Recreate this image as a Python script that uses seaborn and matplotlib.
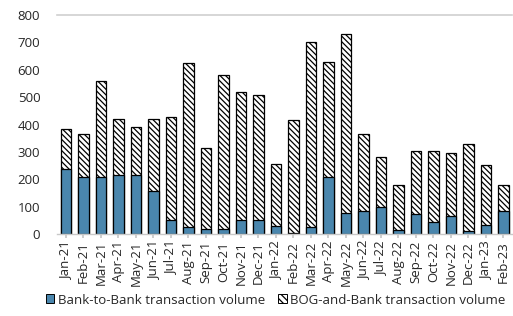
import matplotlib
matplotlib.use("Agg")
import matplotlib.pyplot as plt
import seaborn as sns
import pandas as pd
from matplotlib.patches import Patch

months = ["Jan-21", "Feb-21", "Mar-21", "Apr-21", "May-21", "Jun-21", "Jul-21", "Aug-21",
          "Sep-21", "Oct-21", "Nov-21", "Dec-21", "Jan-22", "Feb-22", "Mar-22", "Apr-22",
          "May-22", "Jun-22", "Jul-22", "Aug-22", "Sep-22", "Oct-22", "Nov-22", "Dec-22",
          "Jan-23", "Feb-23"]
bank_to_bank = [236, 210, 210, 214, 214, 156, 51, 24, 18, 18, 51, 51, 30, 4, 24, 210,
                77, 83, 100, 15, 72, 45, 67, 11, 32, 85]
bog_and_bank = [147, 156, 348, 205, 177, 265, 376, 599, 296, 563, 467, 458, 225, 414, 679, 418,
                652, 283, 182, 165, 232, 259, 229, 316, 221, 95]

df = pd.DataFrame({"month": months, "bank": bank_to_bank, "bog": bog_and_bank})
df["total"] = df["bank"] + df["bog"]

sns.set_theme(style="white")
plt.rcParams["font.family"] = ["Open Sans", "DejaVu Sans"]
plt.rcParams["hatch.linewidth"] = 0.9
plt.rcParams["hatch.color"] = "black"

fig = plt.figure(figsize=(5.13, 3.16), dpi=100)
ax = fig.add_axes([57 / 513, (316 - 234) / 316, (512 - 57) / 513, (234 - 15) / 316])

blue = "#4a86ad"
hatch = "\\" * 6
sns.barplot(data=df, x="month", y="total", color="white", edgecolor="black",
            linewidth=0.9, width=0.6, ax=ax, hatch=hatch, saturation=1)
sns.barplot(data=df, x="month", y="bank", color=blue, edgecolor="black",
            linewidth=0.9, width=0.6, ax=ax, saturation=1)

ax.set_ylim(0, 800)
ax.set_yticks(range(0, 801, 100))
ax.set_xlim(-0.5, len(months) - 0.5)
ax.set_xlabel("")
ax.set_ylabel("")
ax.tick_params(axis="x", rotation=90, labelsize=9.5, pad=2, length=3, color="#c8c8c8", direction="out", bottom=True)
ax.tick_params(axis="y", labelsize=9.5, pad=12, length=0)
for lab in ax.get_xticklabels():
    lab.set_verticalalignment("top")

for side in ["left", "right"]:
    ax.spines[side].set_visible(False)
ax.spines["top"].set_color("#d0d0d0")
ax.spines["top"].set_linewidth(1.2)
ax.spines["bottom"].set_color("#c8c8c8")
ax.spines["bottom"].set_linewidth(1.0)

handles = [Patch(facecolor=blue, edgecolor="black", linewidth=0.7, label="Bank-to-Bank transaction volume"),
           Patch(facecolor="white", edgecolor="black", linewidth=0.7, hatch="\\" * 5,
                 label="BOG-and-Bank transaction volume")]
fig.legend(handles=handles, loc="center", bbox_to_anchor=(0.537, (316 - 300) / 316),
           ncol=2, frameon=False, fontsize=9.5, handlelength=0.65, handleheight=0.65,
           handletextpad=0.25, columnspacing=1.0, borderaxespad=0, borderpad=0)

fig.savefig("out.png", dpi=100)
